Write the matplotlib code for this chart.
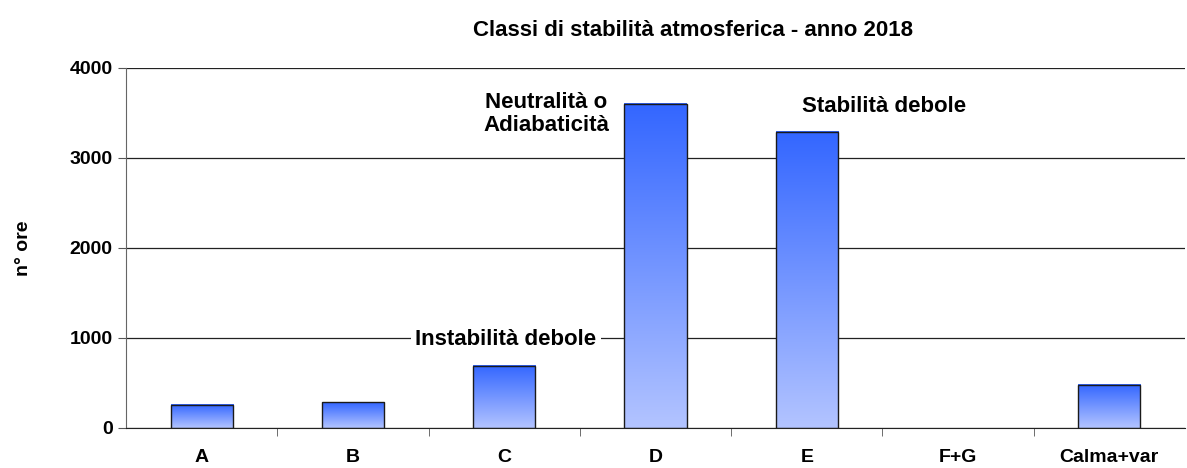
import numpy as np
import matplotlib.pyplot as plt
from matplotlib.colors import LinearSegmentedColormap

plt.rcParams['font.family'] = ['Liberation Sans', 'DejaVu Sans']
plt.rcParams['font.weight'] = 'bold'

categories = ["A", "B", "C", "D", "E", "F+G", "Calma+var"]
hours = [258, 285, 690, 3600, 3290, 0, 478]

fig = plt.figure(figsize=(11.87, 4.68), dpi=100)
ax = fig.add_axes([126 / 1187, 40 / 468, 1059 / 1187, 360 / 468])

cmap = LinearSegmentedColormap.from_list("blu", ["#b3c4ff", "#3366ff"])
grad = np.linspace(0, 1, 256).reshape(-1, 1)
x = np.arange(len(categories))
w = 0.41
for xi, h in zip(x, hours):
    if h <= 0:
        continue
    ax.imshow(grad, extent=[xi - w / 2, xi + w / 2, 0, h], origin="lower",
              cmap=cmap, aspect="auto", zorder=2)
    ax.bar(xi, h, width=w, fill=False, edgecolor="#1a1a1a", linewidth=1.0, zorder=3)

ax.set_xlim(-0.5, len(categories) - 0.5)
ax.set_ylim(0, 4000)
ax.set_yticks([0, 1000, 2000, 3000, 4000])
ax.set_xticks(x)
ax.set_xticklabels(categories, fontsize=14, fontweight="bold")
ax.set_xticks(np.arange(0.5, len(categories) - 0.5), minor=True)
ax.tick_params(axis="x", which="major", length=0, pad=15)
ax.tick_params(axis="x", which="minor", length=6, color="#555555")
ax.tick_params(axis="y", length=6, color="#555555", labelsize=14)
for lbl in ax.get_yticklabels():
    lbl.set_fontweight("bold")
ax.yaxis.grid(True, color="#222222", linewidth=0.9, zorder=0)
ax.set_axisbelow(True)
for s in ["top", "right"]:
    ax.spines[s].set_visible(False)
ax.spines["left"].set_color("#666666")
ax.spines["bottom"].set_color("#222222")
ax.set_ylabel("n° ore", fontsize=14, fontweight="bold", labelpad=27)

ax.text(2.28, 3490, "Neutralità o\nAdiabaticità", ha="center", va="center", fontsize=16,
        fontweight="bold", multialignment="center", linespacing=1.15)
ax.text(4.51, 3567, "Stabilità debole", ha="center", va="center", fontsize=16,
        fontweight="bold")
ax.text(2.01, 980, "Instabilità debole", ha="center", va="center", fontsize=16,
        fontweight="bold", bbox=dict(facecolor="white", edgecolor="none", pad=3), zorder=4)

fig.text(693 / 1187, 1 - 30 / 468, "Classi di stabilità atmosferica - anno 2018",
         ha="center", va="center", fontsize=16, fontweight="bold")

fig.savefig("out.png", dpi=100)
